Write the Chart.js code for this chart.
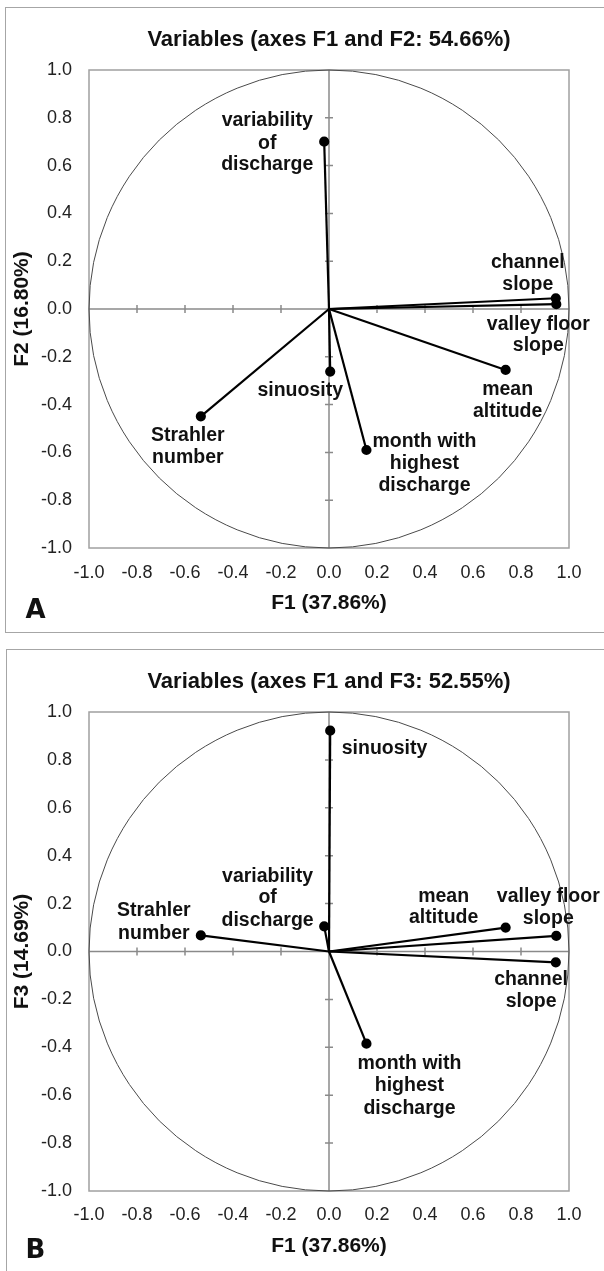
<!DOCTYPE html>
<html>
<head>
<meta charset="utf-8">
<script src="https://cdn.jsdelivr.net/npm/chart.js@4.4.1/dist/chart.umd.min.js"></script>
<style>
  html, body { margin: 0; padding: 0; background: #fff; overflow: hidden; }
  body { position: relative; width: 604px; height: 1271px; }
  .panel { position: absolute; border-top: 1.5px solid #a6a6a6; border-left: 1.5px solid #a6a6a6; }
  #panelA { left: 5px; top: 6.5px; width: 640px; height: 624.5px; border-bottom: 1.5px solid #a6a6a6; }
  #panelB { left: 6px; top: 649px; width: 640px; height: 700px; }
  canvas { position: absolute; left: 0; }
  #chartA { top: 0; }
  #chartB { top: 640px; }
</style>
</head>
<body>
<div class="panel" id="panelA"></div>
<div class="panel" id="panelB"></div>
<canvas id="chartA" width="604" height="640"></canvas>
<canvas id="chartB" width="604" height="631"></canvas>
<script>
// PCA loadings
const variables = [
  "variability of discharge",
  "channel slope",
  "valley floor slope",
  "mean altitude",
  "sinuosity",
  "Strahler number",
  "month with highest discharge",
];
const labelLines = [
  ["variability", "of", "discharge"],
  ["channel", "slope"],
  ["valley floor", "slope"],
  ["mean", "altitude"],
  ["sinuosity"],
  ["Strahler", "number"],
  ["month with", "highest", "discharge"],
];
const f1 = [-0.02, 0.945, 0.947, 0.736, 0.005, -0.534, 0.156];
const f2 = [0.70, 0.045, 0.02, -0.255, -0.262, -0.449, -0.59];
const f3 = [0.105, -0.045, 0.065, 0.10, 0.922, 0.067, -0.385];
const tickValues = [-1.0, -0.8, -0.6, -0.4, -0.2, 0.0, 0.2, 0.4, 0.6, 0.8, 1.0];

// label placement (pixels, relative to each point)
const labelDxA = [-57, -28, -18, 2, -30, -13, 58];
const labelDyA = [[-20.6, 1.7, 23.4], [-35.7, -14], [20, 41.7], [20, 42], [19], [19.4, 41], [-8.3, 13.3, 35.7]];
const labelDxB = [-56.6, -24.7, -8, -62, 54.3, -47, 43];
const labelDyB = [[-49.7, -28.4, -5.7], [17.3, 39], [-39, -17.4], [-30.7, -10], [18.3], [-25, -2.3], [20, 42.4, 65]];

const FONT = "'Liberation Sans', Arial, Helvetica, sans-serif";

const pcaDecor = {
  id: "pcaDecor",
  beforeDatasetsDraw(chart) {
    const { ctx, chartArea: a, scales: { x, y } } = chart;
    const x0 = x.getPixelForValue(0);
    const y0 = y.getPixelForValue(0);
    ctx.save();
    // plot frame
    ctx.strokeStyle = "#a0a0a0";
    ctx.lineWidth = 1.5;
    ctx.strokeRect(a.left, a.top, a.width, a.height);
    // zero axes with tick marks
    ctx.strokeStyle = "#8a8a8a";
    ctx.beginPath();
    ctx.moveTo(a.left, y0);
    ctx.lineTo(a.right, y0);
    ctx.moveTo(x0, a.top);
    ctx.lineTo(x0, a.bottom);
    tickValues.forEach((v) => {
      if (Math.abs(v) < 1e-9 || Math.abs(v) >= 1) return;
      const px = x.getPixelForValue(v);
      const py = y.getPixelForValue(v);
      ctx.moveTo(px, y0 - 4);
      ctx.lineTo(px, y0 + 4);
      ctx.moveTo(x0 - 4, py);
      ctx.lineTo(x0 + 4, py);
    });
    ctx.stroke();
    // correlation circle
    ctx.strokeStyle = "#4a4a4a";
    ctx.lineWidth = 1;
    ctx.beginPath();
    ctx.ellipse(x0, y0, x.getPixelForValue(1) - x0, y0 - y.getPixelForValue(1), 0, 0, 2 * Math.PI);
    ctx.stroke();
    ctx.restore();
  },
  afterDatasetsDraw(chart, args, opts) {
    const { ctx, scales: { x, y } } = chart;
    ctx.save();
    ctx.fillStyle = "#111";
    ctx.font = "bold 19.5px " + FONT;
    ctx.textAlign = "center";
    ctx.textBaseline = "middle";
    labelLines.forEach((lines, i) => {
      const px = x.getPixelForValue(f1[i]);
      const py = y.getPixelForValue(opts.fy[i]);
      lines.forEach((t, k) => {
        ctx.fillText(t, px + opts.dx[i], py + opts.dy[i][k]);
      });
    });
    // panel letter
    ctx.font = "bold 26px 'DejaVu Sans', sans-serif";
    ctx.textBaseline = "alphabetic";
    ctx.fillText(opts.letter, 35.5, 617.5);
    ctx.restore();
  },
};

function makeChart(id, fy, cfg) {
  const datasets = variables.map((name, i) => ({
    label: name,
    data: [{ x: 0, y: 0 }, { x: f1[i], y: fy[i] }],
    showLine: true,
    borderColor: "#000",
    backgroundColor: "#000",
    borderWidth: 2.2,
    pointRadius: (c) => (c.dataIndex === 0 ? 0 : 4),
    pointHoverRadius: 4,
  }));

  const tickFmt = (v) => (Math.abs(v) < 1e-9 ? "0.0" : Number(v).toFixed(1));
  const setTicks = (scale) => {
    scale.ticks = tickValues.map((v) => ({ value: v }));
  };

  return new Chart(document.getElementById(id), {
    type: "scatter",
    data: { datasets },
    options: {
      responsive: false,
      animation: false,
      devicePixelRatio: 1,
      layout: { padding: { left: 0, right: 35, top: 0, bottom: 0 } },
      plugins: {
        legend: { display: false },
        tooltip: { enabled: false },
        title: {
          display: true,
          fullSize: false,
          text: cfg.title,
          color: "#111",
          font: { family: FONT, size: 22, weight: "bold" },
          padding: { top: cfg.titleTop, bottom: cfg.titleBottom },
        },
        pcaDecor: { fy, dx: cfg.dx, dy: cfg.dy, letter: cfg.letter },
      },
      scales: {
        x: {
          type: "linear",
          min: -1,
          max: 1,
          afterBuildTicks: setTicks,
          afterFit: (s) => { s.height = cfg.xAxisHeight; },
          grid: { display: false, drawTicks: false },
          border: { display: false },
          ticks: {
            padding: cfg.xTickPad,
            maxRotation: 0,
            autoSkip: false,
            color: "#222",
            font: { family: FONT, size: 18 },
            callback: tickFmt,
          },
          title: {
            display: true,
            text: "F1 (37.86%)",
            color: "#111",
            font: { family: FONT, size: 21, weight: "bold" },
            padding: { top: 0, bottom: cfg.xTitlePad },
          },
        },
        y: {
          type: "linear",
          min: -1,
          max: 1,
          afterBuildTicks: setTicks,
          afterFit: (s) => { s.width = 89; },
          grid: { display: false, drawTicks: false },
          border: { display: false },
          ticks: {
            padding: 17,
            autoSkip: false,
            color: "#222",
            font: { family: FONT, size: 18 },
            callback: tickFmt,
          },
          title: {
            display: true,
            text: cfg.yTitle,
            color: "#111",
            font: { family: FONT, size: 21, weight: "bold" },
            padding: { top: 9.4, bottom: 0 },
          },
        },
      },
    },
    plugins: [pcaDecor],
  });
}

makeChart("chartA", f2, {
  title: "Variables (axes F1 and F2: 54.66%)",
  yTitle: "F2 (16.80%)",
  titleTop: 26.8,
  titleBottom: 16.8,
  xAxisHeight: 92,
  xTickPad: 14.5,
  xTitlePad: 24.1,
  dx: labelDxA,
  dy: labelDyA,
  letter: "A",
});

makeChart("chartB", f3, {
  title: "Variables (axes F1 and F3: 52.55%)",
  yTitle: "F3 (14.69%)",
  titleTop: 28.5,
  titleBottom: 17.1,
  xAxisHeight: 80,
  xTickPad: 13.2,
  xTitlePad: 12.4,
  dx: labelDxB,
  dy: labelDyB,
  letter: "B",
});
</script>
</body>
</html>
